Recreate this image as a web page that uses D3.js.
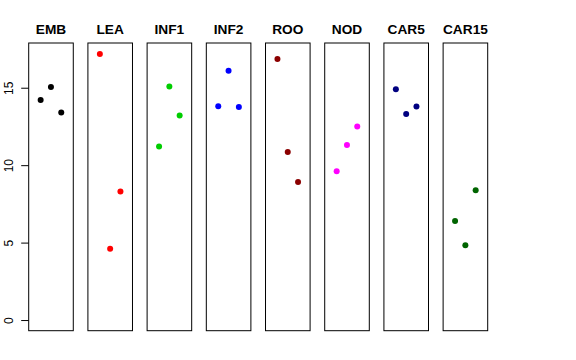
<!DOCTYPE html>
<html><head><meta charset="utf-8">
<script src="https://cdn.jsdelivr.net/npm/d3@7"></script>
<style>body{margin:0;background:#fff}svg{display:block}</style>
</head><body>
<script>
const categories = ["EMB","LEA","INF1","INF2","ROO","NOD","CAR5","CAR15"];
const seriesValues = [
  [14.2, 15.05, 13.4],
  [17.18, 4.6, 8.3],
  [11.2, 15.08, 13.2],
  [13.8, 16.1, 13.75],
  [16.86, 10.85, 8.92],
  [9.61, 11.3, 12.5],
  [14.9, 13.3, 13.79],
  [6.39, 4.83, 8.38]
];
const colors = ["#000000","#FF0000","#00CD00","#0000FF","#8B0000","#FF00FF","#000080","#006400"];
const yTicks = [0,5,10,15];

const W = 576, H = 360;
const svg = d3.select("body").append("svg").attr("width", W).attr("height", H);

const x = d3.scaleBand().domain(categories).range([28.7, 487.7]).paddingInner(0.247).paddingOuter(0);
const y = d3.scaleLinear().domain([-0.688, 17.888]).range([330.7, 43]);
const inner = d3.scalePoint().domain([0,1,2]).range([0.268*x.bandwidth(), 0.73*x.bandwidth()]);

categories.forEach((c, i) => {
  const g = svg.append("g").attr("transform", `translate(${x(c)},0)`);
  g.append("rect").attr("x", 0).attr("y", y.range()[1]).attr("width", x.bandwidth())
    .attr("height", y.range()[0] - y.range()[1]).attr("fill", "none").attr("stroke", "#000").attr("stroke-width", 1);
  g.append("text").attr("x", x.bandwidth()/2).attr("y", 34.3).attr("text-anchor", "middle")
    .attr("font-family", "Liberation Sans, Arial, sans-serif").attr("font-weight", "bold")
    .attr("font-size", "13.7px").text(c);
  g.selectAll("circle").data(seriesValues[i]).join("circle")
    .attr("cx", (d, j) => inner(j)).attr("cy", d => y(d)).attr("r", 3).attr("fill", colors[i]);
});

// y axis
const axis = d3.axisLeft(y).tickValues(yTicks).tickSize(7.5).tickFormat(d3.format("d"));
const ag = svg.append("g").attr("transform", `translate(${x(categories[0])},0)`).call(axis);
ag.select(".domain").remove();
ag.selectAll(".tick line").attr("stroke", "#000");
ag.selectAll(".tick text").attr("font-family", "Liberation Sans, Arial, sans-serif").attr("font-size", "12px")
  .attr("fill", "#000").attr("transform", "rotate(-90)").attr("x", 0).attr("y", -15.4)
  .attr("dy", 0).attr("text-anchor", "middle");
</script>
</body></html>
